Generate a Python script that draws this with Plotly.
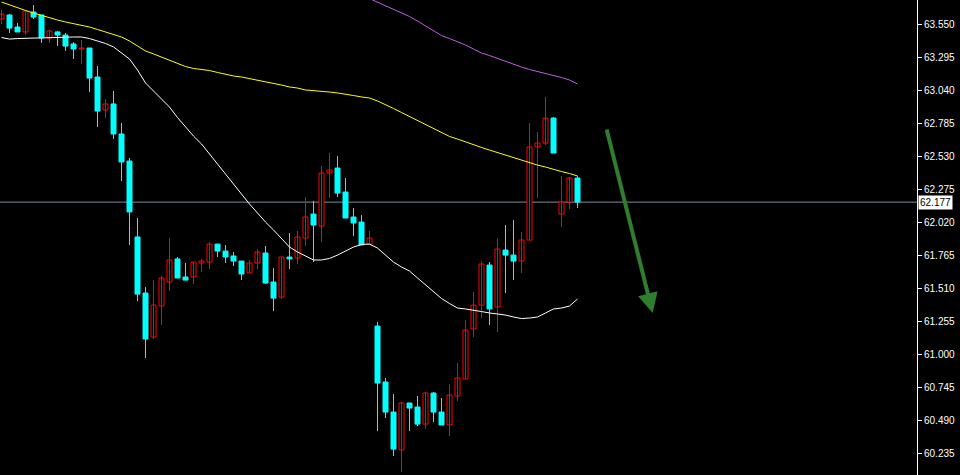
import plotly.graph_objects as go

# ---- data ----
opens = [63.591, 63.622, 63.529, 63.491, 63.645, 63.622, 63.444, 63.491, 63.467, 63.398,
         63.359, 63.367, 63.143, 62.888, 62.935, 62.703, 62.494, 61.908, 61.475, 61.135,
         61.375, 61.560, 61.738, 61.599, 61.599, 61.707, 61.714, 61.853, 61.799, 61.761,
         61.722, 61.630, 61.707, 61.784, 61.560, 61.444, 61.753, 61.745, 61.900, 62.085,
         61.992, 62.402, 62.440, 62.255, 62.062, 62.023, 61.853, 61.220, 60.788, 60.556,
         60.263, 60.626, 60.595, 60.463, 60.703, 60.556, 60.456, 60.680, 60.811, 61.197,
         61.382, 61.691, 61.367, 61.807, 61.768, 61.722, 61.884, 62.603, 62.633, 62.826,
         62.085, 62.178, 62.363]
highs = [63.660, 63.630, 63.560, 63.660, 63.699, 63.622, 63.506, 63.498, 63.483, 63.413,
         63.429, 63.367, 63.228, 62.973, 63.035, 62.788, 62.518, 62.054, 61.521, 61.575,
         61.606, 61.900, 61.753, 61.707, 61.714, 61.738, 61.869, 61.853, 61.846, 61.792,
         61.722, 61.730, 61.815, 61.838, 61.668, 61.753, 61.938, 61.954, 62.216, 62.186,
         62.456, 62.556, 62.533, 62.363, 62.131, 62.077, 61.954, 61.251, 60.819, 60.695,
         60.633, 60.626, 60.680, 60.711, 60.711, 60.664, 60.772, 60.935, 61.267, 61.483,
         61.722, 61.714, 61.900, 62.000, 62.039, 61.946, 62.788, 62.718, 62.989, 62.834,
         62.379, 62.371, 62.379]
lows = [63.552, 63.483, 63.491, 63.467, 63.591, 63.406, 63.406, 63.382, 63.344, 63.282,
        63.243, 63.027, 62.757, 62.826, 62.664, 62.340, 61.846, 61.413, 60.973, 61.120,
        61.228, 61.491, 61.591, 61.575, 61.545, 61.637, 61.660, 61.753, 61.707, 61.684,
        61.575, 61.630, 61.660, 61.545, 61.336, 61.429, 61.660, 61.699, 61.838, 61.714,
        61.869, 62.209, 62.216, 62.054, 61.915, 61.846, 61.853, 60.409, 60.510, 60.216,
        60.093, 60.409, 60.448, 60.425, 60.479, 60.456, 60.371, 60.641, 60.811, 61.135,
        61.282, 61.228, 61.174, 61.475, 61.575, 61.630, 61.884, 62.209, 62.618, 62.556,
        61.985, 62.124, 62.131]
closes = [63.630, 63.521, 63.491, 63.653, 63.606, 63.444, 63.498, 63.467, 63.382, 63.359,
          63.367, 63.135, 62.880, 62.935, 62.703, 62.487, 62.101, 61.467, 61.120, 61.382,
          61.591, 61.730, 61.591, 61.575, 61.714, 61.722, 61.853, 61.799, 61.753, 61.722,
          61.622, 61.707, 61.792, 61.552, 61.436, 61.753, 61.738, 61.908, 62.062, 62.000,
          62.402, 62.425, 62.247, 62.054, 62.016, 61.846, 61.900, 60.780, 60.556, 60.270,
          60.626, 60.587, 60.463, 60.703, 60.556, 60.456, 60.687, 60.819, 61.189, 61.382,
          61.699, 61.352, 61.815, 61.768, 61.722, 61.884, 62.603, 62.633, 62.826, 62.556,
          62.178, 62.363, 62.177]

ma_white = [63.448, 63.436, 63.440, 63.442, 63.444, 63.444, 63.448, 63.452, 63.452, 63.452,
            63.452, 63.440, 63.421, 63.402, 63.375, 63.328, 63.282, 63.197, 63.097, 63.035,
            62.973, 62.911, 62.830, 62.757, 62.687, 62.626, 62.548, 62.471, 62.394, 62.317,
            62.240, 62.162, 62.093, 62.023, 61.962, 61.892, 61.830, 61.792, 61.761, 61.730,
            61.730, 61.742, 61.768, 61.799, 61.830, 61.850, 61.853, 61.822, 61.768, 61.714,
            61.676, 61.645, 61.591, 61.537, 61.483, 61.433, 61.394, 61.359, 61.352, 61.344,
            61.332, 61.321, 61.313, 61.305, 61.290, 61.278, 61.282, 61.290, 61.321, 61.352,
            61.359, 61.375, 61.429]
ma_yellow = [63.722, 63.699, 63.676, 63.657, 63.637, 63.618, 63.599, 63.583, 63.568, 63.556,
             63.545, 63.529, 63.510, 63.491, 63.475, 63.452, 63.421, 63.382, 63.344, 63.321,
             63.297, 63.270, 63.243, 63.224, 63.209, 63.201, 63.193, 63.178, 63.162, 63.151,
             63.143, 63.131, 63.120, 63.108, 63.097, 63.081, 63.066, 63.058, 63.043, 63.039,
             63.035, 63.027, 63.020, 63.012, 63.000, 62.989, 62.981, 62.958, 62.931, 62.900,
             62.869, 62.838, 62.807, 62.776, 62.745, 62.714, 62.684, 62.664, 62.641, 62.618,
             62.599, 62.579, 62.560, 62.541, 62.521, 62.498, 62.479, 62.463, 62.448, 62.429,
             62.413, 62.398, 62.379]
ma_magenta_start = 45
ma_magenta = [63.776, 63.749, 63.722, 63.695, 63.668, 63.637, 63.610, 63.575, 63.537, 63.498,
              63.463, 63.440, 63.417, 63.390, 63.359, 63.328, 63.309, 63.286, 63.267, 63.243,
              63.220, 63.201, 63.186, 63.170, 63.155, 63.139, 63.120, 63.089]

tick_vals = [63.550, 63.295, 63.040, 62.785, 62.530, 62.275, 62.020, 61.765,
             61.510, 61.255, 61.000, 60.745, 60.490, 60.235]
tick_text = ["%.3f" % v for v in tick_vals]
current_price = 62.177

arrow_start = (75.6, 62.749)
arrow_end = (81.4, 61.320)

BULL = "#ff0000"
BEAR = "#00ffff"

x = list(range(len(opens)))
bull = [c >= o for o, c in zip(opens, closes)]

fig = go.Figure()

# wicks
for flag, col in ((True, BULL), (False, BEAR)):
    wx, wy = [], []
    for i in x:
        if bull[i] == flag:
            wx += [i, i, None]
            wy += [lows[i], highs[i], None]
    fig.add_trace(go.Scatter(x=wx, y=wy, mode="lines", line=dict(color=col, width=1),
                             showlegend=False, hoverinfo="skip"))

# bodies
fig.add_trace(go.Bar(
    x=x,
    y=[abs(c - o) for o, c in zip(opens, closes)],
    base=[min(o, c) for o, c in zip(opens, closes)],
    width=0.625,
    marker=dict(color=["#000000" if b else BEAR for b in bull],
                line=dict(color=[BULL if b else BEAR for b in bull], width=1)),
    showlegend=False, hoverinfo="skip"))

fig.add_trace(go.Scatter(x=x, y=ma_white, mode="lines",
                         line=dict(color="#ffffff", width=1), showlegend=False, hoverinfo="skip"))
fig.add_trace(go.Scatter(x=x, y=ma_yellow, mode="lines",
                         line=dict(color="#ffff00", width=1), showlegend=False, hoverinfo="skip"))
fig.add_trace(go.Scatter(x=x[ma_magenta_start:], y=ma_magenta, mode="lines",
                         line=dict(color="#c05ce0", width=1), showlegend=False, hoverinfo="skip"))

fig.add_shape(type="line", xref="paper", x0=0, x1=1, yref="y", y0=current_price, y1=current_price,
              line=dict(color="#7f8ea3", width=1), layer="below")

fig.add_annotation(xref="paper", x=1, yref="y", y=current_price, xanchor="left", yanchor="middle",
                   xshift=1, text="%.3f" % current_price, showarrow=False,
                   bgcolor="#ffffff", font=dict(family="Liberation Sans", size=10, color="#000000"),
                   borderpad=1)

fig.add_annotation(x=arrow_end[0], y=arrow_end[1], ax=arrow_start[0], ay=arrow_start[1],
                   xref="x", yref="y", axref="x", ayref="y", text="", showarrow=True,
                   arrowhead=2, arrowsize=1, arrowwidth=4, arrowcolor="#2f7d2f")

fig.update_layout(
    width=960, height=475,
    margin=dict(l=0, r=43, t=0, b=0),
    paper_bgcolor="#000000", plot_bgcolor="#000000",
    hovermode=False,
    xaxis=dict(visible=False, range=[-0.1875, 114.4375]),
    yaxis=dict(side="right", range=[60.070, 63.7376], tickvals=tick_vals, ticktext=tick_text,
               showgrid=False, zeroline=False, showline=True, linecolor="#ffffff", linewidth=1,
               ticks="outside", ticklen=4, tickcolor="#ffffff",
               tickfont=dict(family="Liberation Sans", size=10, color="#ffffff")),
)

fig.write_html("out.html", config={"displayModeBar": False},
               post_script="document.body.style.margin='0';document.body.style.background='#000';")
